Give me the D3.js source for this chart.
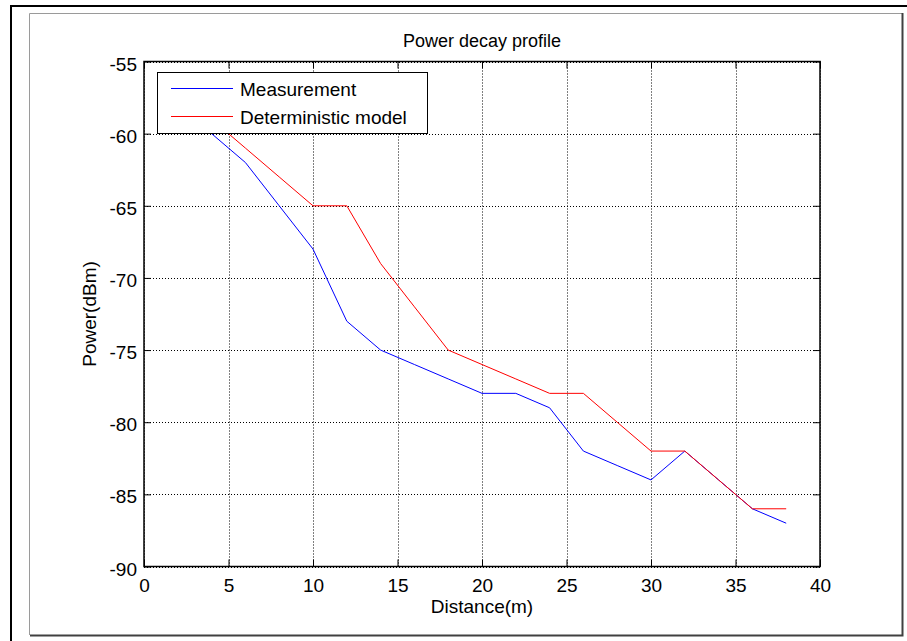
<!DOCTYPE html>
<html>
<head>
<meta charset="utf-8">
<script src="https://cdn.jsdelivr.net/npm/d3@7"></script>
<style>
  body { margin: 0; background: #fff; }
  svg { display: block; font-family: "Liberation Sans", Arial, sans-serif; }
</style>
</head>
<body>
<svg id="chart" width="907" height="641"></svg>
<script>
// distance samples (m) and received power (dBm)
var distance = [2, 4, 6, 8, 10, 12, 14, 16, 18, 20, 22, 24, 26, 28, 30, 32, 34, 36, 38];
var measurement = [-58, -60, -62, -65, -68, -73, -75, -76, -77, -78, -78, -79, -82, -83, -84, -82, -84, -86, -87];
var deterministic = [-57, -59, -61, -63, -65, -65, -69, -72, -75, -76, -77, -78, -78, -80, -82, -82, -84, -86, -86];

var xTicks = [0, 5, 10, 15, 20, 25, 30, 35, 40];
var yTicks = [-55, -60, -65, -70, -75, -80, -85, -90];

var seriesNames = ["Measurement", "Deterministic model"];
var seriesColours = ["#0000ff", "#ff0000"];

var svg = d3.select("#chart");

// outer frame and bevelled figure border
svg.append("path")
    .attr("d", "M11,641 V6 H907")
    .style("fill", "none")
    .style("stroke", "#000")
    .style("stroke-width", 2);
svg.append("path")
    .attr("d", "M29.5,635 V13.5 H902")
    .style("fill", "none")
    .style("stroke", "#9a9a9a")
    .style("stroke-width", 1);
svg.append("path")
    .attr("d", "M30,635.5 H902.5 V13")
    .style("fill", "none")
    .style("stroke", "#404040")
    .style("stroke-width", 2);

var plotL = 144, plotR = 820, plotT = 61.5, plotB = 566.5;

var x = d3.scaleLinear().domain([0, 40]).range([plotL, plotR]);
var y = d3.scaleLinear().domain([-90, -55]).range([plotB, plotT]);

var grid = svg.append("g");

// dotted grid
xTicks.forEach(function (t) {
    grid.append("line")
        .attr("x1", Math.round(x(t)) + 0.5).attr("x2", Math.round(x(t)) + 0.5)
        .attr("y1", plotT).attr("y2", plotB)
        .style("stroke", "#000")
        .style("stroke-dasharray", "1,2")
        .style("stroke-width", 1);
});
yTicks.forEach(function (t) {
    grid.append("line")
        .attr("x1", plotL).attr("x2", plotR)
        .attr("y1", Math.round(y(t)) + 0.5).attr("y2", Math.round(y(t)) + 0.5)
        .style("stroke", "#000")
        .style("stroke-dasharray", "1,2")
        .style("stroke-width", 1);
});

// data lines
var line = d3.line()
    .x(function (d) { return x(d[0]); })
    .y(function (d) { return y(d[1]); });

[measurement, deterministic].forEach(function (vals, i) {
    svg.append("path")
        .datum(distance.map(function (d, j) { return [d, vals[j]]; }))
        .attr("d", line)
        .style("fill", "none")
        .style("stroke", seriesColours[i])
        .style("stroke-width", 1);
});

// axes box with inward ticks on all sides
var tickLen = 7;
var plain = function (d) { return String(d); };
var axisBottom = d3.axisBottom(x).tickValues(xTicks).tickFormat(plain).tickSizeInner(-tickLen).tickSizeOuter(0).tickPadding(12);
var axisTop = d3.axisTop(x).tickValues(xTicks).tickSizeInner(-tickLen).tickSizeOuter(0).tickFormat("");
var axisLeft = d3.axisLeft(y).tickValues(yTicks).tickFormat(plain).tickSizeInner(-tickLen).tickSizeOuter(0).tickPadding(7);
var axisRight = d3.axisRight(y).tickValues(yTicks).tickSizeInner(-tickLen).tickSizeOuter(0).tickFormat("");

function styleAxis(g) {
    g.select(".domain").remove();
    g.selectAll("line").style("stroke", "#000");
    g.selectAll("text")
        .style("font-family", "Liberation Sans, Arial, sans-serif")
        .style("font-size", "19px")
        .style("fill", "#000");
}

svg.append("g").attr("transform", "translate(0," + plotB + ")").call(axisBottom).call(styleAxis);
svg.append("g").attr("transform", "translate(0," + plotT + ")").call(axisTop).call(styleAxis);
svg.append("g").attr("transform", "translate(" + plotL + ",0)").call(axisLeft).call(styleAxis)
    .selectAll("text").attr("dy", "0.45em");
svg.append("g").attr("transform", "translate(" + plotR + ",0)").call(axisRight).call(styleAxis);

svg.append("rect")
    .attr("x", plotL).attr("y", plotT)
    .attr("width", plotR - plotL).attr("height", plotB - plotT)
    .style("fill", "none")
    .style("stroke", "#000")
    .style("stroke-width", 1.5);

// titles
svg.append("text")
    .attr("x", (plotL + plotR) / 2).attr("y", 47)
    .attr("text-anchor", "middle")
    .style("font-size", "18px")
    .text("Power decay profile");

svg.append("text")
    .attr("x", (plotL + plotR) / 2).attr("y", 613)
    .attr("text-anchor", "middle")
    .style("font-size", "19px")
    .text("Distance(m)");

svg.append("text")
    .attr("transform", "translate(96," + (plotT + plotB) / 2 + ") rotate(-90)")
    .attr("text-anchor", "middle")
    .style("font-size", "19px")
    .text("Power(dBm)");

// legend
var legend = svg.append("g");
legend.append("rect")
    .attr("x", 157.5).attr("y", 72.5)
    .attr("width", 270).attr("height", 61)
    .style("fill", "#fff")
    .style("stroke", "#000")
    .style("stroke-width", 1);

seriesNames.forEach(function (name, i) {
    var ly = 88.5 + i * 28;
    legend.append("line")
        .attr("x1", 171).attr("x2", 233)
        .attr("y1", ly).attr("y2", ly)
        .style("stroke", seriesColours[i])
        .style("stroke-width", 1);
    legend.append("text")
        .attr("x", 240).attr("y", ly + 7)
        .style("font-size", "19px")
        .text(name);
});
</script>
</body>
</html>
